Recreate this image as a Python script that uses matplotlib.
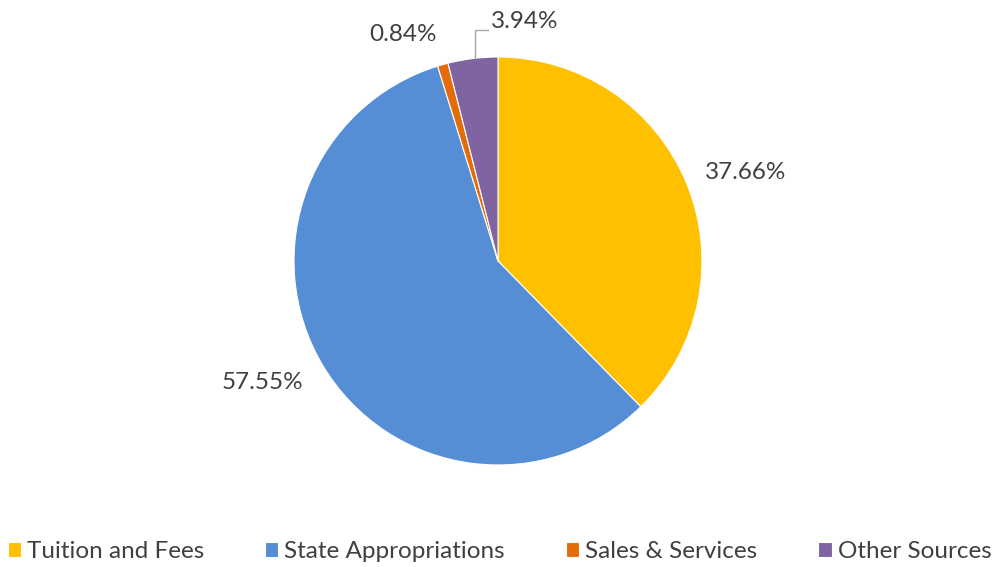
import matplotlib.pyplot as plt

plt.rcParams['font.family'] = ['Lato', 'DejaVu Sans']

# Datos
categorias = ['Tuition and Fees', 'State Appropriations', 'Sales & Services', 'Other Sources']
valores = [37.66, 57.55, 0.84, 3.94]
colores = ['#FFC000', '#558ED5', '#E36C09', '#8064A2']
etiquetas = ['37.66%', '57.55%', '0.84%', '3.94%']

fig = plt.figure(figsize=(9.99, 5.67), dpi=100)
ax = fig.add_axes([0.2943, 0.1799, 0.4084, 0.7196])

wedges, _ = ax.pie(valores, colors=colores, startangle=90, counterclock=False,
                   radius=1, wedgeprops=dict(edgecolor='white', linewidth=0.8))
ax.set_xlim(-1, 1)
ax.set_ylim(-1, 1)
ax.set_aspect('equal')

#Posiciones de etiquetas
pos = [(1.216, 0.436), (-1.157, -0.598), (-0.466, 1.108), (0.132, 1.176)]
for (x, y), t in zip(pos, etiquetas):
    ax.text(x, y, t, ha='center', va='center', fontsize=17.5, color='#404040', clip_on=False)

# linea guia de 3.94%
ax.plot([-0.113, -0.113, -0.049], [0.995, 1.132, 1.132], color='#A6A6A6', lw=1, clip_on=False)

fig.legend(wedges, categorias, loc='lower center', ncol=4, frameon=False,
           bbox_to_anchor=(0.5, -0.03), fontsize=17.5, handlelength=0.55, handleheight=0.55,
           handletextpad=0.25, columnspacing=2.5, labelcolor='#404040')

plt.savefig('out.png', dpi=100)
